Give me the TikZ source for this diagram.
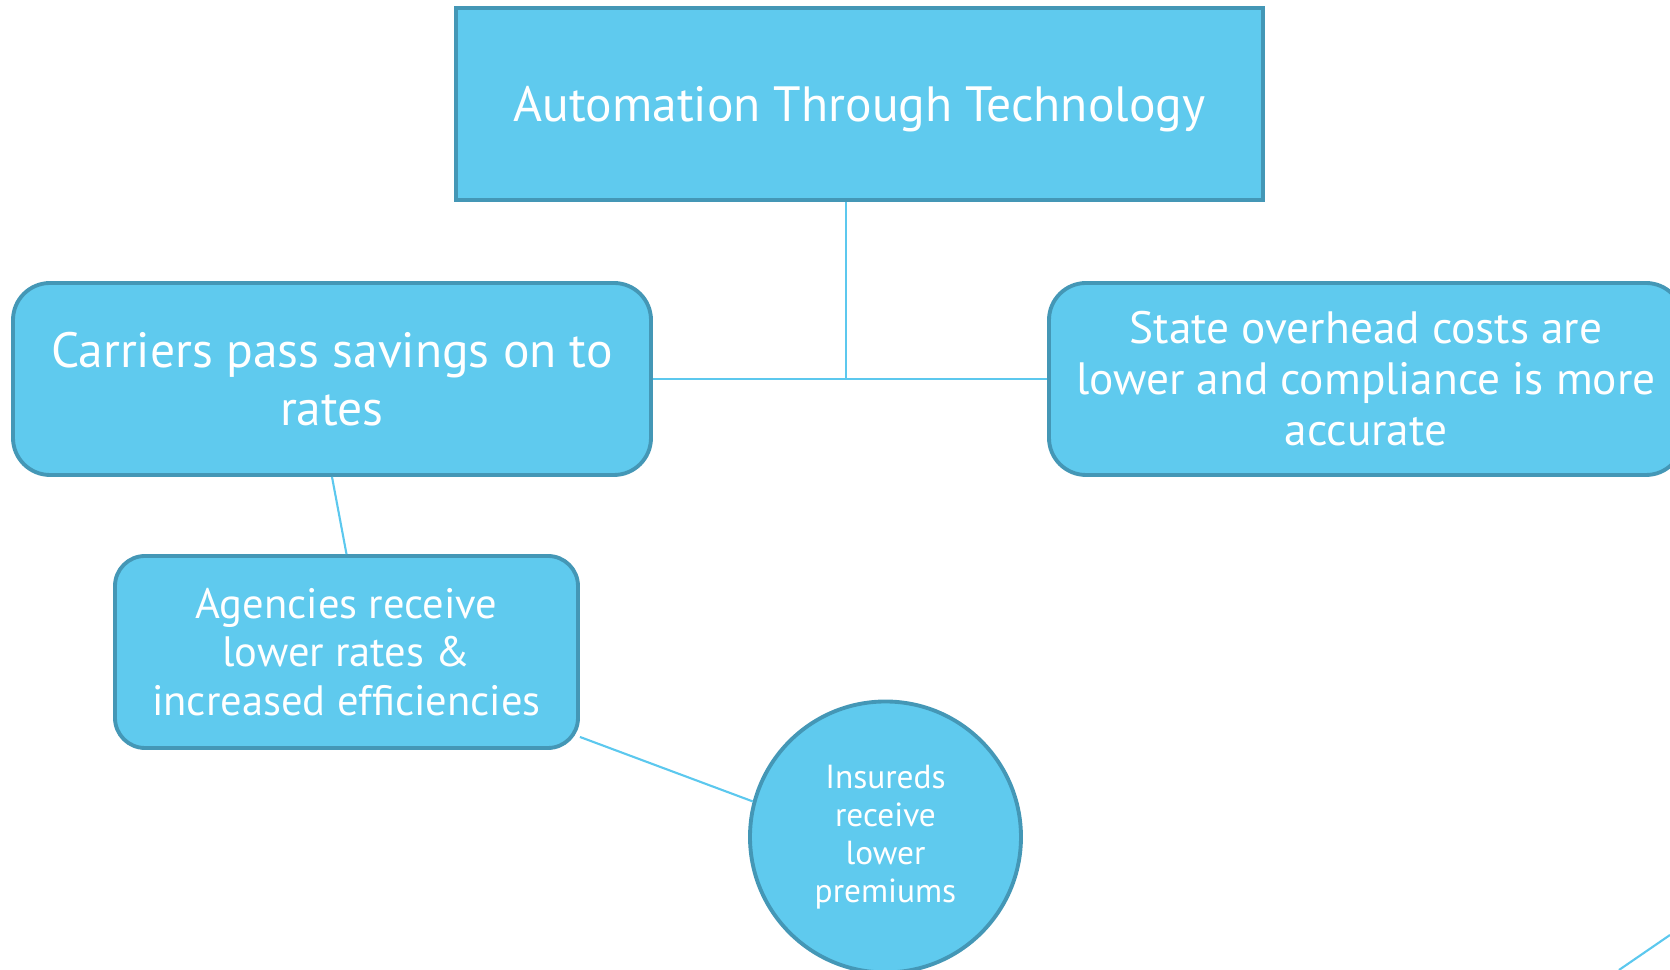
\documentclass[tikz,border=0pt]{standalone}
\usepackage{fontspec}
\setmainfont{PT Sans}
\definecolor{boxblue}{HTML}{5FCAEE}
\definecolor{edgeblue}{HTML}{4497B6}
\definecolor{lineblue}{HTML}{5CC8EE}

\begin{document}
\begin{tikzpicture}[
    box/.style={fill=boxblue, draw=edgeblue, line width=1.1pt, text=white, align=center, inner sep=0pt},
    link/.style={draw=lineblue, line width=0.6pt}]
\useasboundingbox (0,0) rectangle (16.7,9.7);
\clip (0,0) rectangle (16.7,9.7);

\node[box, minimum width=8.07cm, minimum height=1.92cm, text depth=0pt, font=\fontsize{14.1}{17}\selectfont] (top) at (8.595,8.66) {Automation Through Technology};
\node[box, rounded corners=0.37cm, minimum width=6.38cm, minimum height=1.92cm, font=\fontsize{14.1}{16.5}\selectfont] (carriers) at (3.32,5.91) {Carriers pass savings on to\\rates};
\node[box, rounded corners=0.37cm, minimum width=6.34cm, minimum height=1.92cm, font=\fontsize{12.9}{14.5}\selectfont] (state) at (13.66,5.91) {State overhead costs are\\lower and compliance is more\\accurate};
\node[box, rounded corners=0.3cm, minimum width=4.63cm, minimum height=1.92cm, font=\fontsize{12.1}{13.7}\selectfont] (agencies) at (3.465,3.18) {Agencies receive\\lower rates \&\\increased efficiencies};
\node[box, circle, minimum size=2.71cm, font=\fontsize{9.5}{10.8}\selectfont] (insureds) at (8.855,1.33) {Insureds\\receive\\lower\\premiums};

% tree lines
\coordinate (hub) at (8.46,5.92);
\draw[link] (hub |- top.south) -- (hub);
\draw[link] (carriers.east) -- (state.west);
\draw[link] (carriers.south) -- (agencies.north);
\draw[link] (agencies.-20) -- (insureds.165);
\draw[link] (16.19,0) -- (16.7,0.35);

\end{tikzpicture}
\end{document}
